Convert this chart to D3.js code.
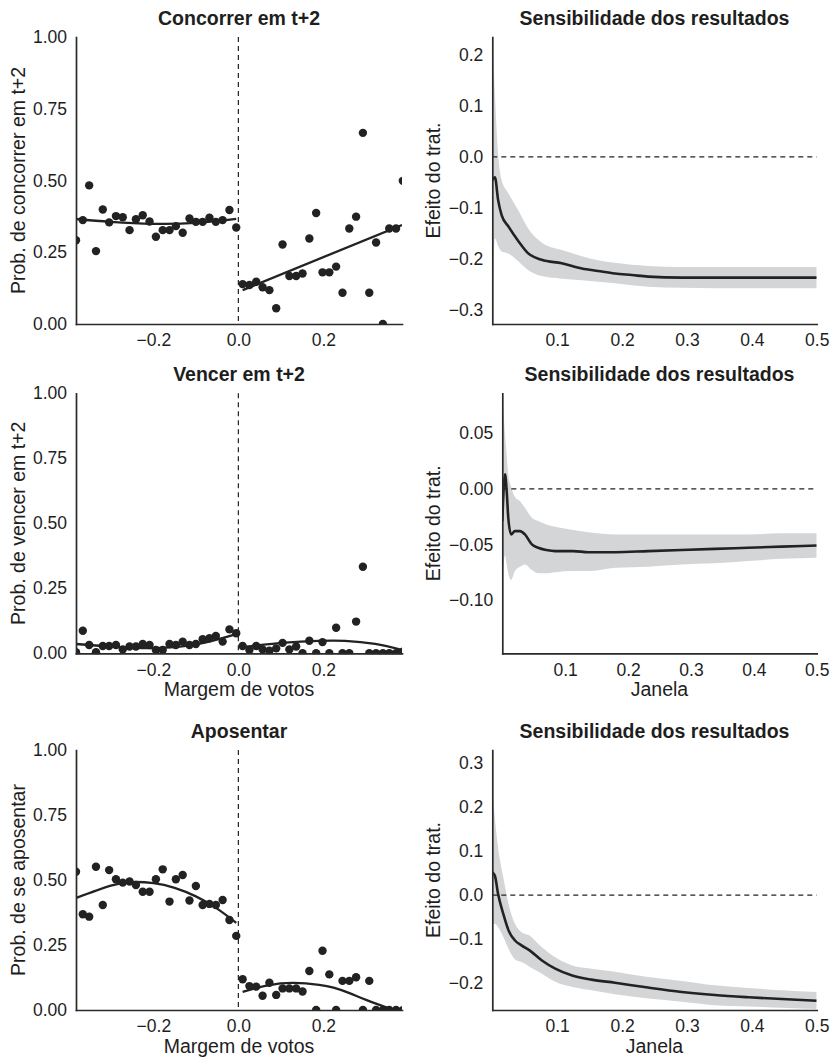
<!DOCTYPE html>
<html>
<head>
<meta charset="utf-8">
<script src="https://cdn.jsdelivr.net/npm/d3@7"></script>
<style>
  body { margin: 0; background: #fff; }
  svg text { font-family: "Liberation Sans", Arial, Helvetica, sans-serif; fill: #1e1e1e; }
</style>
</head>
<body>
<div id="chart"></div>
<script>

// ---- data: binned means (left column) ----
var binsLeft  = [-0.382, -0.366, -0.351, -0.335, -0.319, -0.304, -0.288, -0.272, -0.256, -0.241, -0.225, -0.209, -0.194,
                 -0.178, -0.162, -0.147, -0.131, -0.115, -0.100, -0.084, -0.068, -0.053, -0.037, -0.021, -0.005];
var binsRight = [0.010, 0.026, 0.042, 0.057, 0.073, 0.089, 0.104, 0.120, 0.136, 0.151, 0.167, 0.183, 0.198,
                 0.214, 0.230, 0.245, 0.261, 0.277, 0.293, 0.308, 0.324, 0.340, 0.355, 0.371, 0.387];

var concorrerLeft  = [0.292, 0.362, 0.483, 0.254, 0.399, 0.354, 0.376, 0.372, 0.327, 0.365, 0.379, 0.357, 0.304,
                      0.327, 0.327, 0.341, 0.318, 0.368, 0.356, 0.356, 0.370, 0.356, 0.362, 0.397, 0.336];
var concorrerRight = [0.139, 0.136, 0.147, 0.128, 0.118, 0.055, 0.277, 0.167, 0.167, 0.176, 0.298, 0.387, 0.180,
                      0.180, 0.200, 0.109, 0.333, 0.374, 0.666, 0.109, 0.284, 0.000, 0.333, 0.333, 0.499];
var concorrerFitLX = [-0.383, -0.300, -0.200, -0.100, -0.005];
var concorrerFitLY = [0.366, 0.356, 0.349, 0.352, 0.366];
var concorrerFitRX = [0.010, 0.385];
var concorrerFitRY = [0.118, 0.345];

var vencerLeft  = [0.004, 0.087, 0.032, 0.004, 0.028, 0.028, 0.032, 0.015, 0.026, 0.026, 0.036, 0.032, 0.013,
                   0.013, 0.036, 0.032, 0.045, 0.032, 0.036, 0.054, 0.058, 0.067, 0.045, 0.092, 0.077];
var vencerRight = [0.028, 0.013, 0.028, 0.015, 0.010, 0.019, 0.040, 0.015, 0.026, 0.000, 0.048, 0.000, 0.043,
                   0.000, 0.098, 0.000, 0.000, 0.122, 0.333, 0.000, 0.000, 0.000, 0.000, 0.000, 0.006];
var vencerFitLX = [-0.383, -0.300, -0.200, -0.100, -0.005];
var vencerFitLY = [0.036, 0.026, 0.020, 0.034, 0.074];
var vencerFitRX = [0.004, 0.110, 0.188, 0.251, 0.322, 0.385];
var vencerFitRY = [0.023, 0.041, 0.048, 0.048, 0.036, 0.013];

var aposentarLeft  = [0.532, 0.368, 0.359, 0.551, 0.404, 0.538, 0.503, 0.490, 0.494, 0.481, 0.455, 0.455, 0.503,
                      0.541, 0.417, 0.503, 0.519, 0.421, 0.477, 0.404, 0.408, 0.404, 0.423, 0.346, 0.285];
var aposentarRight = [0.118, 0.092, 0.090, 0.055, 0.105, 0.058, 0.083, 0.083, 0.083, 0.071, 0.150, 0.000, 0.228,
                      0.137, 0.000, 0.112, 0.112, 0.126, 0.000, 0.112, 0.000, 0.000, 0.000, 0.000, 0.000];
var aposentarFitLX = [-0.383, -0.300, -0.250, -0.200, -0.150, -0.100, -0.050, -0.005];
var aposentarFitLY = [0.430, 0.478, 0.492, 0.488, 0.470, 0.437, 0.390, 0.335];
var aposentarFitRX = [0.010, 0.070, 0.130, 0.190, 0.224, 0.260, 0.302, 0.365];
var aposentarFitRY = [0.070, 0.095, 0.104, 0.097, 0.086, 0.066, 0.038, 0.000];

// ---- data: sensitivity to bandwidth (right column) ----
var janela1 = [0, 0.004, 0.009, 0.0145, 0.025, 0.040, 0.055, 0.076, 0.107, 0.138, 0.163, 0.189, 0.215, 0.240, 0.292, 0.400, 0.500];
var efeito1 = [-0.046, -0.040, -0.085, -0.115, -0.137, -0.165, -0.189, -0.202, -0.209, -0.219, -0.224, -0.229, -0.232, -0.235, -0.237, -0.237, -0.237];
var sup1    = [0.235, 0.124, 0.005, -0.046, -0.072, -0.105, -0.140, -0.168, -0.183, -0.195, -0.203, -0.208, -0.212, -0.214, -0.216, -0.216, -0.216];
var inf1    = [-0.330, -0.160, -0.175, -0.186, -0.190, -0.205, -0.222, -0.234, -0.239, -0.242, -0.245, -0.248, -0.252, -0.255, -0.257, -0.258, -0.258];

var janela2 = [0, 0.0043, 0.007, 0.0095, 0.014, 0.020, 0.028, 0.036, 0.047, 0.057, 0.070, 0.084, 0.113, 0.137, 0.180, 0.232, 0.285, 0.338, 0.391, 0.444, 0.500];
var efeito2 = [-0.029, 0.013, -0.002, -0.026, -0.041, -0.038, -0.038, -0.041, -0.050, -0.053, -0.055, -0.056, -0.056, -0.057, -0.057, -0.056, -0.055, -0.054, -0.053, -0.052, -0.051];
var sup2    = [0.086, 0.049, 0.030, 0.013, 0.002, -0.007, -0.011, -0.017, -0.026, -0.029, -0.032, -0.034, -0.037, -0.039, -0.041, -0.041, -0.041, -0.041, -0.041, -0.040, -0.040];
var inf2    = [-0.085, -0.060, -0.068, -0.076, -0.082, -0.074, -0.070, -0.068, -0.073, -0.076, -0.076, -0.075, -0.074, -0.074, -0.071, -0.070, -0.068, -0.067, -0.065, -0.063, -0.062];

var janela3 = [0, 0.004, 0.009, 0.017, 0.025, 0.035, 0.045, 0.058, 0.076, 0.097, 0.122, 0.153, 0.189, 0.240, 0.292, 0.343, 0.395, 0.446, 0.500];
var efeito3 = [0.052, 0.044, 0.002, -0.043, -0.080, -0.103, -0.114, -0.126, -0.148, -0.167, -0.182, -0.192, -0.199, -0.210, -0.220, -0.227, -0.232, -0.236, -0.240];
var sup3    = [0.250, 0.175, 0.108, 0.040, -0.020, -0.065, -0.084, -0.092, -0.118, -0.141, -0.159, -0.167, -0.174, -0.186, -0.195, -0.205, -0.211, -0.216, -0.220];
var inf3    = [-0.070, -0.065, -0.073, -0.095, -0.122, -0.146, -0.152, -0.163, -0.178, -0.197, -0.208, -0.216, -0.225, -0.235, -0.242, -0.250, -0.253, -0.256, -0.259];

// tick labels
var probTicks  = [0, 0.25, 0.5, 0.75, 1];
var margemTicks = [-0.2, 0, 0.2];
var janelaTicks = [0.1, 0.2, 0.3, 0.4, 0.5];

var FONT = '"Liberation Sans", Arial, Helvetica, sans-serif';
var INK = "#222";

var svg = d3.select("#chart").append("svg")
    .attr("width", 831)
    .attr("height", 1058);

// panel rows: top / bottom of plotting area
var rows = [{ top: 37, bottom: 324 }, { top: 393.3, bottom: 653.3 }, { top: 750, bottom: 1010 }];

function styleAxis(g) {
    g.attr("font-size", null).attr("font-family", null);
    g.select(".domain")
        .attr("stroke", "#2a2a2a")
        .attr("stroke-width", 1.7)
        .attr("stroke-linecap", "square");
    g.selectAll("text")
        .attr("fill", INK)
        .style("font-size", "17.5px")
        .style("font-family", FONT);
}

function addTitles(g, w, h, title, yTitle, xTitle, yTitleX) {
    g.append("text")
        .attr("x", w / 2)
        .attr("y", -12.5)
        .attr("text-anchor", "middle")
        .style("font-size", "19.5px")
        .style("font-weight", "bold")
        .text(title);

    g.append("text")
        .attr("transform", "translate(" + yTitleX + "," + (h / 2) + ") rotate(-90)")
        .attr("dy", "0.35em")
        .attr("text-anchor", "middle")
        .style("font-size", "19.5px")
        .text(yTitle);

    if (xTitle) {
        g.append("text")
            .attr("x", w / 2)
            .attr("y", h + 43)
            .attr("text-anchor", "middle")
            .style("font-size", "19.5px")
            .text(xTitle);
    }
}

/*
 * Scatter of binned means with the two fitted curves
 */
function drawScatter(p) {
    var left = 76, right = 402;
    var r = rows[p.row];
    var w = right - left, h = r.bottom - r.top;

    var g = svg.append("g").attr("transform", "translate(" + left + "," + r.top + ")");

    var x = d3.scaleLinear().domain([-0.382, 0.385]).range([0, w]);
    var y = d3.scaleLinear().domain([0, 1]).range([h, 0]);

    var clipId = "clip-s" + p.row;
    g.append("clipPath").attr("id", clipId)
        .append("rect").attr("width", w).attr("height", h + 1);

    // cutoff
    g.append("line")
        .attr("x1", x(0)).attr("x2", x(0))
        .attr("y1", y(1)).attr("y2", y(0))
        .attr("stroke", INK)
        .attr("stroke-width", 1.2)
        .attr("stroke-dasharray", "5,4");

    var pts = binsLeft.map(function(d, i) { return { x: d, y: p.leftVals[i] }; })
        .concat(binsRight.map(function(d, i) { return { x: d, y: p.rightVals[i] }; }));

    var plot = g.append("g").attr("clip-path", "url(#" + clipId + ")");

    plot.selectAll(".dot")
        .data(pts)
        .enter().append("circle")
        .attr("class", "dot")
        .attr("cx", function(d) { return x(d.x); })
        .attr("cy", function(d) { return y(d.y); })
        .attr("r", 4.2)
        .attr("fill", INK);

    var line = d3.line()
        .x(function(d) { return x(d[0]); })
        .y(function(d) { return y(d[1]); })
        .curve(d3.curveNatural);

    [[p.fitLX, p.fitLY], [p.fitRX, p.fitRY]].forEach(function(f) {
        plot.append("path")
            .datum(d3.zip(f[0], f[1]))
            .attr("d", line)
            .attr("fill", "none")
            .attr("stroke", INK)
            .attr("stroke-width", 2.3);
    });

    g.append("g")
        .attr("transform", "translate(0," + h + ")")
        .call(d3.axisBottom(x).tickValues(margemTicks).tickFormat(d3.format(".1f")).tickSize(0).tickPadding(10))
        .call(styleAxis);

    g.append("g")
        .call(d3.axisLeft(y).tickValues(probTicks).tickFormat(d3.format(".2f")).tickSize(0).tickPadding(9))
        .call(styleAxis);

    addTitles(g, w, h, p.title, p.yTitle, p.xTitle, 18 - left);
}

/*
 * Treatment effect over the bandwidth, with its confidence band
 */
function drawSens(p) {
    var left = p.left, right = 816.7;
    var r = rows[p.row];
    var w = right - left, h = r.bottom - r.top;

    var g = svg.append("g").attr("transform", "translate(" + left + "," + r.top + ")");

    var x = d3.scaleLinear().domain([0, 0.5]).range([0, w]);
    var y = d3.scaleLinear().domain(p.yDomain).range([h, 0]);

    var clipId = "clip-r" + p.row;
    g.append("clipPath").attr("id", clipId)
        .append("rect").attr("width", w).attr("height", h);

    var rowsData = p.win.map(function(d, i) {
        return { x: d, est: p.est[i], lo: p.lo[i], hi: p.hi[i] };
    });

    var plot = g.append("g").attr("clip-path", "url(#" + clipId + ")");

    plot.append("path")
        .datum(rowsData)
        .attr("d", d3.area()
            .x(function(d) { return x(d.x); })
            .y0(function(d) { return y(d.lo); })
            .y1(function(d) { return y(d.hi); })
            .curve(d3.curveMonotoneX))
        .attr("fill", "#d4d5d7");

    g.append("line")
        .attr("x1", 0).attr("x2", w)
        .attr("y1", y(0)).attr("y2", y(0))
        .attr("stroke", INK)
        .attr("stroke-width", 1.2)
        .attr("stroke-dasharray", "5,4");

    plot.append("path")
        .datum(rowsData)
        .attr("d", d3.line()
            .x(function(d) { return x(d.x); })
            .y(function(d) { return y(d.est); })
            .curve(d3.curveMonotoneX))
        .attr("fill", "none")
        .attr("stroke", INK)
        .attr("stroke-width", 2.6)
        .attr("stroke-linejoin", "round");

    g.append("g")
        .attr("transform", "translate(0," + h + ")")
        .call(d3.axisBottom(x).tickValues(janelaTicks).tickFormat(d3.format(".1f")).tickSize(0).tickPadding(10))
        .call(styleAxis);

    g.append("g")
        .call(d3.axisLeft(y).tickValues(p.yTicks).tickFormat(d3.format(p.fmt)).tickSize(0).tickPadding(9))
        .call(styleAxis);

    addTitles(g, w, h, "Sensibilidade dos resultados", "Efeito do trat.", p.xTitle, 433 - left);
}

drawScatter({ row: 0, title: "Concorrer em t+2", yTitle: "Prob. de concorrer em t+2", xTitle: null,
    leftVals: concorrerLeft, rightVals: concorrerRight,
    fitLX: concorrerFitLX, fitLY: concorrerFitLY, fitRX: concorrerFitRX, fitRY: concorrerFitRY });

drawScatter({ row: 1, title: "Vencer em t+2", yTitle: "Prob. de vencer em t+2", xTitle: "Margem de votos",
    leftVals: vencerLeft, rightVals: vencerRight,
    fitLX: vencerFitLX, fitLY: vencerFitLY, fitRX: vencerFitRX, fitRY: vencerFitRY });

drawScatter({ row: 2, title: "Aposentar", yTitle: "Prob. de se aposentar", xTitle: "Margem de votos",
    leftVals: aposentarLeft, rightVals: aposentarRight,
    fitLX: aposentarFitLX, fitLY: aposentarFitLY, fitRX: aposentarFitRX, fitRY: aposentarFitRY });

drawSens({ row: 0, left: 492.3, yDomain: [-0.328, 0.235], yTicks: [-0.3, -0.2, -0.1, 0, 0.1, 0.2], fmt: ".1f",
    win: janela1, est: efeito1, lo: inf1, hi: sup1, xTitle: null });

drawSens({ row: 1, left: 502.3, yDomain: [-0.148, 0.086], yTicks: [-0.1, -0.05, 0, 0.05], fmt: ".2f",
    win: janela2, est: efeito2, lo: inf2, hi: sup2, xTitle: "Janela" });

drawSens({ row: 2, left: 492.3, yDomain: [-0.261, 0.33], yTicks: [-0.2, -0.1, 0, 0.1, 0.2, 0.3], fmt: ".1f",
    win: janela3, est: efeito3, lo: inf3, hi: sup3, xTitle: "Janela" });

</script>
</body>
</html>
